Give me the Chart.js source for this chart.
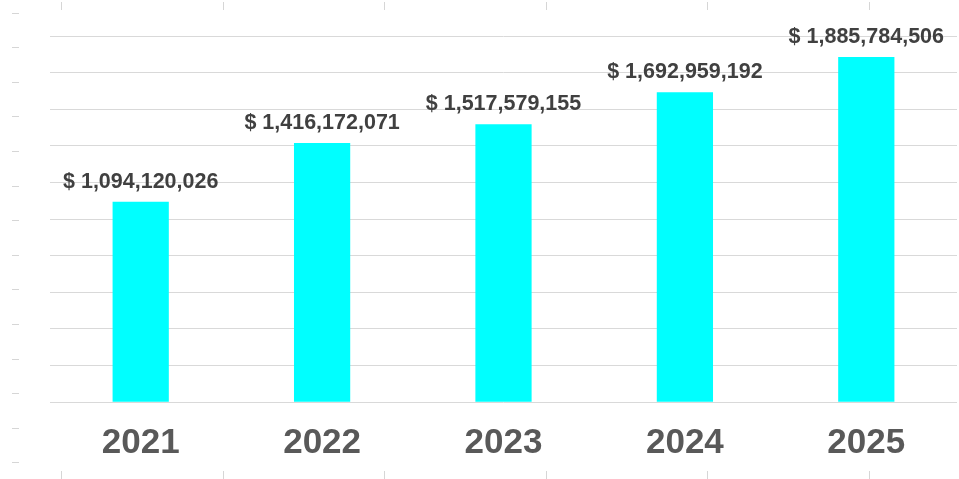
<!DOCTYPE html>
<html>
<head>
<meta charset="utf-8">
<script src="https://cdn.jsdelivr.net/npm/chart.js@4/dist/chart.umd.min.js"></script>
<style>
  html, body { margin: 0; padding: 0; background: #fff; }
  #wrap { width: 959px; height: 479px; position: relative; }
</style>
</head>
<body>
<div id="wrap"><canvas id="salesChart"></canvas></div>
<script>
const years = ["2021", "2022", "2023", "2024", "2025"];
const sales = [1094120026, 1416172071, 1517579155, 1692959192, 1885784506];
const yMax = 2000000000;
const yStep = 200000000;

const fmtMoney = (v) => "$ " + v.toLocaleString("en-US");

// value labels above each bar
const barLabels = {
  id: "barLabels",
  afterDatasetsDraw(chart) {
    const ctx = chart.ctx;
    const meta = chart.getDatasetMeta(0);
    ctx.save();
    ctx.font = "bold 21.5px 'Liberation Sans', Arial, sans-serif";
    ctx.fillStyle = "#404040";
    ctx.textAlign = "center";
    ctx.textBaseline = "alphabetic";
    meta.data.forEach((bar, i) => {
      ctx.fillText(fmtMoney(chart.data.datasets[0].data[i]), bar.x, bar.y - 14);
    });
    ctx.restore();
  },
};

// faint ruler marks around the edge of the picture
const rulerMarks = {
  id: "rulerMarks",
  afterDraw(chart) {
    const ctx = chart.ctx;
    ctx.save();
    ctx.strokeStyle = "#d6d6d6";
    ctx.lineWidth = 1;
    for (let y = 12.5; y < 470; y += 34.6) {
      ctx.beginPath();
      ctx.moveTo(12, Math.round(y) + 0.5);
      ctx.lineTo(19, Math.round(y) + 0.5);
      ctx.stroke();
    }
    for (let x = 61; x < 959; x += 161.5) {
      const px = Math.round(x) + 0.5;
      ctx.beginPath();
      ctx.moveTo(px, 2);
      ctx.lineTo(px, 10);
      ctx.moveTo(px, 471);
      ctx.lineTo(px, 479);
      ctx.stroke();
    }
    ctx.restore();
  },
};

new Chart(document.getElementById("salesChart"), {
  type: "bar",
  data: {
    labels: years,
    datasets: [
      {
        data: sales,
        backgroundColor: "#00ffff",
        borderWidth: 0,
        barPercentage: 0.31,
        categoryPercentage: 1,
      },
    ],
  },
  options: {
    responsive: true,
    maintainAspectRatio: false,
    animation: false,
    layout: { padding: { left: 50, right: 2, top: 36, bottom: -6 } },
    plugins: {
      legend: { display: false },
      tooltip: { enabled: false },
    },
    scales: {
      x: {
        grid: { display: false, drawTicks: false },
        border: { display: false },
        ticks: {
          color: "#595959",
          padding: 26,
          font: { family: "'Liberation Sans', Arial, sans-serif", size: 35, weight: "bold", lineHeight: 0.88 },
        },
      },
      y: {
        min: 0,
        max: yMax,
        ticks: { display: false, stepSize: yStep },
        grid: { color: "#d9d9d9", drawTicks: false },
        border: { display: false },
      },
    },
  },
  plugins: [barLabels, rulerMarks],
});
</script>
</body>
</html>
